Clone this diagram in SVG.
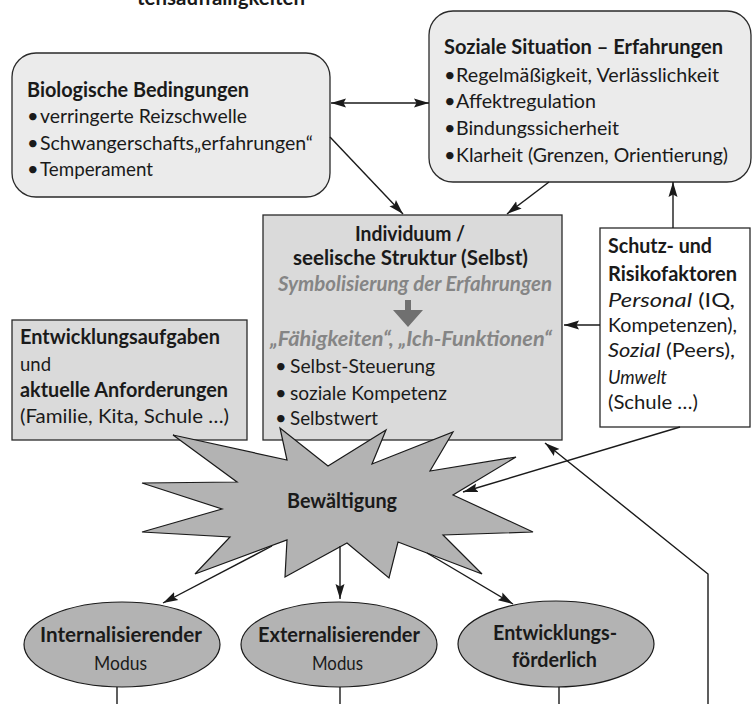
<svg xmlns="http://www.w3.org/2000/svg" width="753" height="704" viewBox="0 0 753 704">
<defs>
<style>
text{font-family:Lato,"Liberation Sans",sans-serif;fill:#1a1a1a;font-size:20px}
.b{font-weight:bold;font-size:20.5px}
.i{font-style:italic}
.g{fill:#858585;font-weight:bold;font-style:italic;font-size:20px}
.box{stroke:#2a2a2a;stroke-width:1.3}
.light{fill:#ebebeb}
.mid{fill:#dadada}
.dark{fill:#b3b3b3;stroke:#1a1a1a;stroke-width:1.2}
.con{fill:none;stroke:#1a1a1a;stroke-width:1.4}
</style>
<marker id="ah" markerUnits="userSpaceOnUse" markerWidth="16" markerHeight="10" refX="15" refY="5" orient="auto-start-reverse">
<path d="M0,0.5 L15,5 L0,9.5 L2.5,5 z" fill="#1a1a1a"/>
</marker>
</defs>
<text class="b" x="137" y="5" textLength="168" lengthAdjust="spacingAndGlyphs">tensauffälligkeiten</text>
<g id="bio">
<rect class="box light" x="12" y="53" width="318" height="144" rx="24"/>
<text class="b" x="27" y="97" textLength="222" lengthAdjust="spacingAndGlyphs">Biologische Bedingungen</text>
<text x="27" y="123">•</text><text x="40" y="123" textLength="207" lengthAdjust="spacingAndGlyphs">verringerte Reizschwelle</text>
<text x="27" y="150">•</text><text x="40" y="150" textLength="273" lengthAdjust="spacingAndGlyphs">Schwangerschafts„erfahrungen“</text>
<text x="27" y="176">•</text><text x="40" y="176" textLength="113" lengthAdjust="spacingAndGlyphs">Temperament</text>
</g>
<g id="sozial">
<rect class="box light" x="429" y="11" width="322" height="171" rx="24"/>
<text class="b" x="444" y="54" textLength="279" lengthAdjust="spacingAndGlyphs">Soziale Situation – Erfahrungen</text>
<text x="444" y="82">•</text><text x="456" y="82" textLength="263" lengthAdjust="spacingAndGlyphs">Regelmäßigkeit, Verlässlichkeit</text>
<text x="444" y="108">•</text><text x="456" y="108" textLength="140" lengthAdjust="spacingAndGlyphs">Affektregulation</text>
<text x="444" y="135">•</text><text x="456" y="135" textLength="163" lengthAdjust="spacingAndGlyphs">Bindungssicherheit</text>
<text x="444" y="162">•</text><text x="456" y="162" textLength="272" lengthAdjust="spacingAndGlyphs">Klarheit (Grenzen, Orientierung)</text>
</g>
<g id="individuum">
<rect class="box mid" x="263" y="215" width="299" height="225"/>
<text class="b" x="355" y="241" textLength="110" lengthAdjust="spacingAndGlyphs">Individuum /</text>
<text class="b" x="293" y="265" textLength="235" lengthAdjust="spacingAndGlyphs">seelische Struktur (Selbst)</text>
<text class="g" x="278" y="291" textLength="274" lengthAdjust="spacingAndGlyphs">Symbolisierung der Erfahrungen</text>
<path d="M405,300 H411 V310 H423 L408,327 L393,310 H405 z" fill="#707070"/>
<text class="g" x="270" y="346" textLength="282" lengthAdjust="spacingAndGlyphs">„Fähigkeiten“, „Ich-Funktionen“</text>
<text x="275" y="373">•</text><text x="290" y="373" textLength="145" lengthAdjust="spacingAndGlyphs">Selbst-Steuerung</text>
<text x="275" y="400">•</text><text x="290" y="400" textLength="157" lengthAdjust="spacingAndGlyphs">soziale Kompetenz</text>
<text x="275" y="425">•</text><text x="290" y="425" textLength="88" lengthAdjust="spacingAndGlyphs">Selbstwert</text>
</g>
<g id="schutz">
<rect class="box" fill="#ffffff" x="600" y="228" width="150" height="199"/>
<text class="b" x="608" y="253" textLength="104" lengthAdjust="spacingAndGlyphs">Schutz- und</text>
<text class="b" x="608" y="281" textLength="129" lengthAdjust="spacingAndGlyphs">Risikofaktoren</text>
<text x="608" y="307" textLength="127" lengthAdjust="spacingAndGlyphs"><tspan class="i">Personal</tspan> (IQ,</text>
<text x="608" y="332" textLength="129" lengthAdjust="spacingAndGlyphs">Kompetenzen),</text>
<text x="608" y="357" textLength="127" lengthAdjust="spacingAndGlyphs"><tspan class="i">Sozial</tspan> (Peers),</text>
<text class="i" x="608" y="384" textLength="59" lengthAdjust="spacingAndGlyphs">Umwelt</text>
<text x="608" y="409" textLength="90" lengthAdjust="spacingAndGlyphs">(Schule …)</text>
</g>
<g id="entwicklungsaufgaben">
<rect class="box mid" x="12" y="320" width="235" height="120"/>
<text class="b" x="20" y="344" textLength="200" lengthAdjust="spacingAndGlyphs">Entwicklungsaufgaben</text>
<text x="20" y="371" textLength="31" lengthAdjust="spacingAndGlyphs">und</text>
<text class="b" x="20" y="397" textLength="208" lengthAdjust="spacingAndGlyphs">aktuelle Anforderungen</text>
<text x="20" y="423" textLength="209" lengthAdjust="spacingAndGlyphs">(Familie, Kita, Schule …)</text>
</g>
<g id="bewaeltigung">
<polygon class="dark" points="173,435 287,460 280,428 328,466 386,430 372,464 453,432 430,471 516,457 453,495 533,532 443,535 482,574 398,542 389,578 347,543 285,577 287,540 195,574 230,537 142,532 222,509 142,483 237,482"/>
<text class="b" x="287" y="508" textLength="110" lengthAdjust="spacingAndGlyphs">Bewältigung</text>
</g>
<g id="internalisierend">
<ellipse class="dark" cx="122" cy="644.5" rx="98" ry="42.5"/>
<text class="b" x="40" y="642" textLength="162" lengthAdjust="spacingAndGlyphs">Internalisierender</text>
<text x="94" y="670" textLength="53" lengthAdjust="spacingAndGlyphs">Modus</text>
</g>
<g id="externalisierend">
<ellipse class="dark" cx="339" cy="644.5" rx="98" ry="42.5"/>
<text class="b" x="258" y="642" textLength="162" lengthAdjust="spacingAndGlyphs">Externalisierender</text>
<text x="312" y="670" textLength="51" lengthAdjust="spacingAndGlyphs">Modus</text>
</g>
<g id="foerderlich">
<ellipse class="dark" cx="556" cy="644" rx="98" ry="43"/>
<text class="b" x="493" y="640" textLength="124" lengthAdjust="spacingAndGlyphs">Entwicklungs-</text>
<text class="b" x="512" y="667" textLength="85" lengthAdjust="spacingAndGlyphs">förderlich</text>
</g>
<g id="connectors">
<line class="con" x1="331" y1="103" x2="429" y2="103" marker-start="url(#ah)" marker-end="url(#ah)"/>
<line class="con" x1="330" y1="137" x2="403" y2="214" marker-end="url(#ah)"/>
<line class="con" x1="549" y1="182" x2="507" y2="214" marker-end="url(#ah)"/>
<line class="con" x1="673" y1="228" x2="673" y2="182" marker-end="url(#ah)"/>
<line class="con" x1="600" y1="325" x2="564" y2="325" marker-end="url(#ah)"/>
<line class="con" x1="680" y1="427" x2="463" y2="492" marker-end="url(#ah)"/>
<polyline class="con" points="708,704 708,574 545,443" marker-end="url(#ah)"/>
<line class="con" x1="272" y1="546" x2="163" y2="603" marker-end="url(#ah)"/>
<line class="con" x1="340" y1="546" x2="340" y2="599" marker-end="url(#ah)"/>
<line class="con" x1="427" y1="553" x2="513" y2="604" marker-end="url(#ah)"/>
<line class="con" x1="117" y1="687" x2="117" y2="704"/>
<line class="con" x1="340" y1="687" x2="340" y2="704"/>
<line class="con" x1="559" y1="687" x2="559" y2="704"/>
</g>
</svg>
